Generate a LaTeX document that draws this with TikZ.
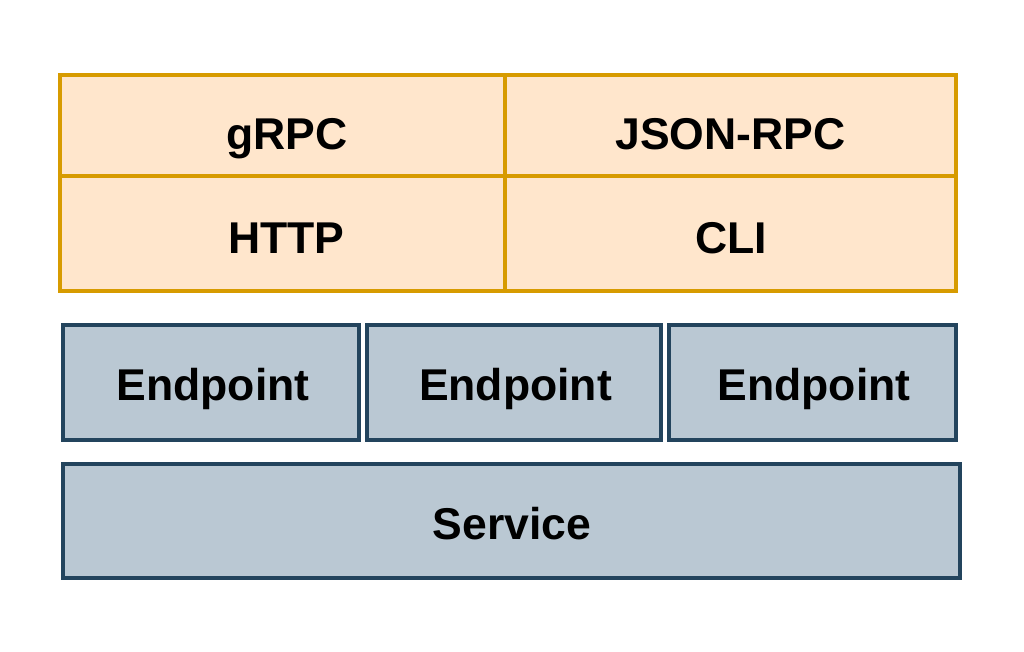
\documentclass[tikz,border=0pt]{standalone}
\usepackage{fontspec}
\setmainfont{Liberation Sans}
\usetikzlibrary{fit}
\definecolor{ofill}{HTML}{FFE6CC}
\definecolor{oline}{HTML}{D79B00}
\definecolor{bfill}{HTML}{BAC8D3}
\definecolor{bline}{HTML}{23445D}
\tikzset{
  ocell/.style={draw=oline, fill=ofill, line width=3pt, inner sep=0pt, rectangle},
  bcell/.style={draw=bline, fill=bfill, line width=3pt, inner sep=0pt, rectangle},
  lbl/.style={anchor=base, inner sep=0pt, font=\fontsize{33.4}{40}\selectfont\bfseries}
}
\begin{document}
\begin{tikzpicture}[x=0.75pt,y=-0.75pt]
\useasboundingbox (0,0) rectangle (1024,652);
\fill[white] (0,0) rectangle (1024,652);
% orange table
\node[ocell, fit={(60,75) (505,176)}] (grpcbox) {};
\node[ocell, fit={(505,75) (956,176)}] (jsonbox) {};
\node[ocell, fit={(60,176) (505,291)}] (httpbox) {};
\node[ocell, fit={(505,176) (956,291)}] (clibox) {};
\node[lbl] (grpc) at (287,150) {gRPC};
\node[lbl] (json) at (730.5,150) {JSON-RPC};
\node[lbl] (http) at (286.5,253) {HTTP};
\node[lbl] (cli) at (731,253) {CLI};
% endpoints
\node[bcell, fit={(63,325) (359,440)}] (ep1box) {};
\node[bcell, fit={(367,325) (661,440)}] (ep2box) {};
\node[bcell, fit={(669,325) (956,440)}] (ep3box) {};
\node[lbl] (ep1) at (213,400) {Endpoint};
\node[lbl] (ep2) at (515.5,400) {Endpoint};
\node[lbl] (ep3) at (814,400) {Endpoint};
% service
\node[bcell, fit={(63,464) (960,578)}] (svcbox) {};
\node[lbl] (svc) at (512,539) {Service};
\end{tikzpicture}
\end{document}
